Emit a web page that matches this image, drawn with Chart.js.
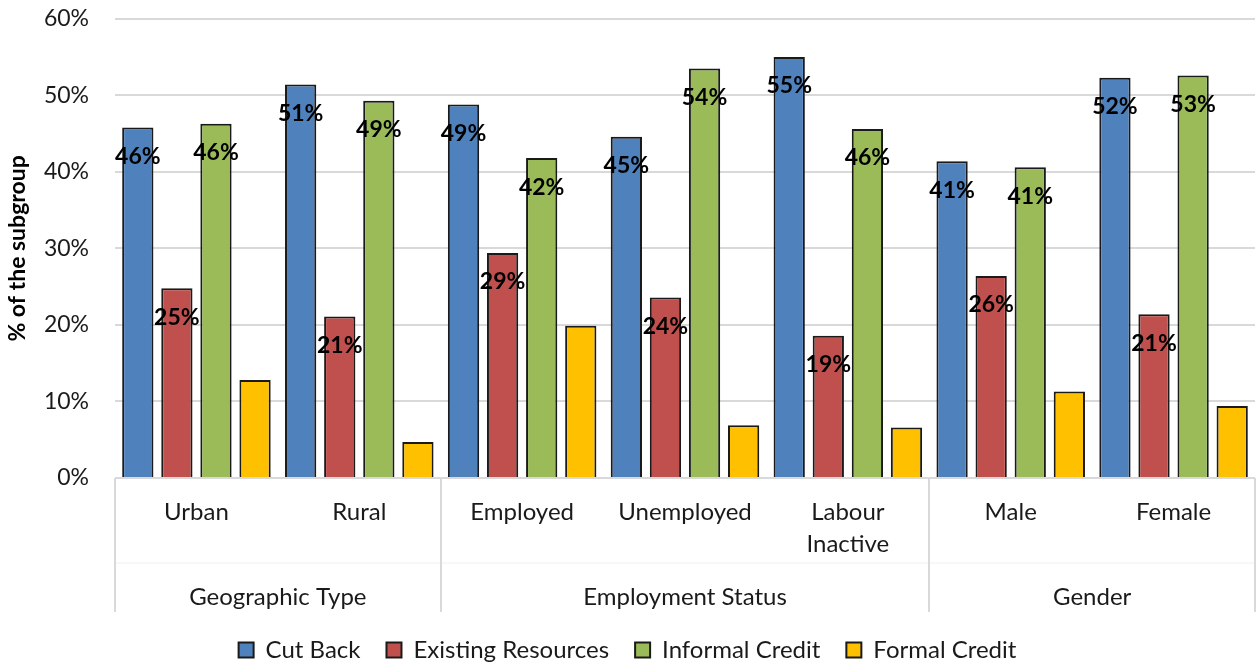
<!DOCTYPE html>
<html>
<head>
<meta charset="utf-8">
<script src="https://cdn.jsdelivr.net/npm/chart.js@4.4.0/dist/chart.umd.min.js"></script>
<style>
  html, body { margin: 0; padding: 0; background: #fff; overflow: hidden; }
  #grafico { position: relative; top: -21px; width: 1257px; height: 685px; }
</style>
</head>
<body>
<div id="grafico"><canvas id="ContSubgrupos"></canvas></div>
<script>
// Dados (% of the subgroup)
const categorias = ['Urban', 'Rural', 'Employed', 'Unemployed', ['Labour', 'Inactive'], 'Male', 'Female'];
const grupos = ['Geographic Type', 'Employment Status', 'Gender'];
const tamanhoGrupos = [2, 3, 2];
const cutBack = [45.8, 51.4, 48.8, 44.6, 55.0, 41.4, 52.3];
const existingResources = [24.8, 21.1, 29.4, 23.6, 18.6, 26.4, 21.4];
const informalCredit = [46.3, 49.3, 41.8, 53.5, 45.6, 40.6, 52.6];
const formalCredit = [12.8, 4.7, 19.9, 6.9, 6.6, 11.3, 9.4];
const ticksY = [0, 10, 20, 30, 40, 50, 60];

const fonte = 'Lato, Carlito, "DejaVu Sans", sans-serif';
const corTexto = '#1a1a1a';
const corGrade = '#d9d9d9';

// Plugin para escrever os rótulos de valor dentro das barras (só as 3 primeiras séries)
const rotulosBarras = {
    id: 'rotulosBarras',
    afterDatasetsDraw: function (chart) {
        const ctx = chart.ctx;
        ctx.save();
        ctx.font = 'bold 23px ' + fonte;
        ctx.fillStyle = '#000';
        ctx.textAlign = 'center';
        ctx.textBaseline = 'middle';
        for (let d = 0; d < 3; d++) {
            const meta = chart.getDatasetMeta(d);
            meta.data.forEach(function (barra, i) {
                const valor = chart.data.datasets[d].data[i];
                ctx.fillText(Math.round(valor) + '%', barra.x, barra.y + 29);
            });
        }
        ctx.restore();
    }
};

// Plugin para o eixo x em dois níveis (linhas separadoras e nomes dos grupos)
const eixoGrupos = {
    id: 'eixoGrupos',
    afterDraw: function (chart) {
        const ctx = chart.ctx;
        const x = chart.scales.x;
        const area = chart.chartArea;
        const passo = (area.right - area.left) / categorias.length;
        const base = x.bottom;
        ctx.save();
        // linha fraca entre os níveis
        ctx.strokeStyle = '#efefef';
        ctx.lineWidth = 1;
        ctx.beginPath();
        ctx.moveTo(area.left, area.bottom + 85);
        ctx.lineTo(area.right, area.bottom + 85);
        ctx.stroke();

        ctx.strokeStyle = corGrade;
        ctx.lineWidth = 2;
        let inicio = 0;
        const limites = [0];
        tamanhoGrupos.forEach(function (n) { inicio += n; limites.push(inicio); });
        limites.forEach(function (k) {
            const px = Math.round(area.left + k * passo);
            ctx.beginPath();
            ctx.moveTo(px, area.bottom);
            ctx.lineTo(px, base);
            ctx.stroke();
        });

        ctx.font = '24px ' + fonte;
        ctx.fillStyle = corTexto;
        ctx.textAlign = 'center';
        ctx.textBaseline = 'middle';
        for (let g = 0; g < grupos.length; g++) {
            const centro = area.left + (limites[g] + limites[g + 1]) / 2 * passo;
            ctx.fillText(grupos[g], centro, area.bottom + 119);
        }
        ctx.restore();
    }
};

function plotarGrafico() {
    const borda = '#1a1a1a';
    const config = {
        type: 'bar',
        data: {
            labels: categorias,
            datasets: [
                { label: 'Cut Back', data: cutBack, backgroundColor: '#4f81bd', borderColor: borda, borderWidth: 2 },
                { label: 'Existing Resources', data: existingResources, backgroundColor: '#c0504d', borderColor: borda, borderWidth: 2 },
                { label: 'Informal Credit', data: informalCredit, backgroundColor: '#9bbb59', borderColor: borda, borderWidth: 2 },
                { label: 'Formal Credit', data: formalCredit, backgroundColor: '#ffc000', borderColor: borda, borderWidth: 2 }
            ]
        },
        options: {
            responsive: true,
            maintainAspectRatio: false,
            animation: false,
            categoryPercentage: 0.96,
            barPercentage: 0.8,
            layout: { padding: { top: 0, right: 2, left: 0, bottom: -8 } },
            plugins: {
                legend: {
                    position: 'bottom',
                    labels: {
                        boxWidth: 15,
                        boxHeight: 15,
                        padding: 26,
                        color: corTexto,
                        font: { family: fonte, size: 24 }
                    }
                },
                tooltip: { enabled: false }
            },
            scales: {
                x: {
                    grid: { display: false },
                    border: { display: false },
                    ticks: {
                        color: corTexto,
                        padding: 10,
                        maxRotation: 0,
                        autoSkip: false,
                        font: { family: fonte, size: 24, lineHeight: 1.35 }
                    },
                    afterFit: function (scale) { scale.height = 134; }
                },
                y: {
                    min: 0,
                    max: 60,
                    afterBuildTicks: function (scale) {
                        scale.ticks = ticksY.map(function (v) { return { value: v }; });
                    },
                    grid: { color: corGrade, lineWidth: 2, drawTicks: false },
                    border: { display: false },
                    ticks: {
                        color: corTexto,
                        padding: 26,
                        font: { family: fonte, size: 23 },
                        callback: function (v) { return v + '%'; }
                    },
                    title: {
                        display: true,
                        text: '% of the subgroup',
                        color: '#000',
                        font: { family: fonte, size: 23, weight: 'bold' },
                        padding: { top: 4, bottom: 4 }
                    },
                    afterFit: function (scale) { scale.width = 115; }
                }
            }
        },
        plugins: [rotulosBarras, eixoGrupos]
    };

    new Chart(document.getElementById('ContSubgrupos'), config);
}

plotarGrafico();
</script>
</body>
</html>
